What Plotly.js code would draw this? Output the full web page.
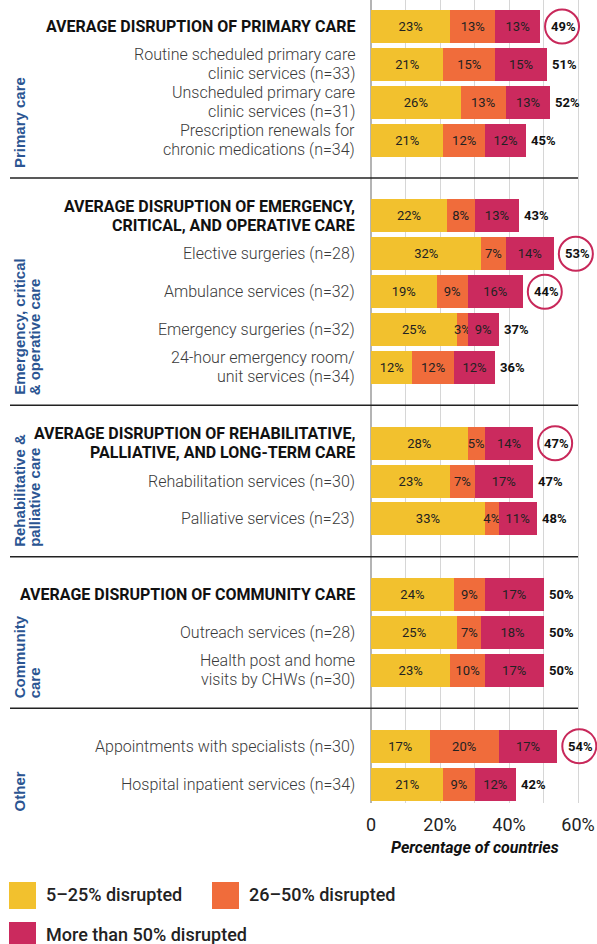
<!DOCTYPE html>
<html><head><meta charset="utf-8">
<script src="https://cdn.plot.ly/plotly-3.0.1.min.js"></script>
<style>html,body{margin:0;padding:0;background:#fff}</style>
</head><body><div id="chart" style="width:597px;height:944px"></div>
<script>
// ---------------- data ----------------
const groupNames = ["Primary care", "Emergency, critical<br>& operative care", "Rehabilitative &<br>palliative care", "Community<br>care", "Other"];
const groupSizes = [4, 5, 3, 3, 2];
const services = [
  "AVERAGE DISRUPTION OF PRIMARY CARE",
  "Routine scheduled primary care<br>clinic services (n=33)",
  "Unscheduled primary care<br>clinic services (n=31)",
  "Prescription renewals for<br>chronic medications (n=34)",
  "AVERAGE DISRUPTION OF EMERGENCY,<br>CRITICAL, AND OPERATIVE CARE",
  "Elective surgeries (n=28)",
  "Ambulance services (n=32)",
  "Emergency surgeries (n=32)",
  "24-hour emergency room/<br>unit services (n=34)",
  "AVERAGE DISRUPTION OF REHABILITATIVE,<br>PALLIATIVE, AND LONG-TERM CARE",
  "Rehabilitation services (n=30)",
  "Palliative services (n=23)",
  "AVERAGE DISRUPTION OF COMMUNITY CARE",
  "Outreach services (n=28)",
  "Health post and home<br>visits by CHWs (n=30)",
  "Appointments with specialists (n=30)",
  "Hospital inpatient services (n=34)"
];
const isAverage = [true,false,false,false, true,false,false,false,false, true,false,false, true,false,false, false,false];
const low  = [23, 21, 26, 21, 22, 32, 19, 25, 12, 28, 23, 33, 24, 25, 23, 17, 21];
const mid  = [13, 15, 13, 12,  8,  7,  9,  3, 12,  5,  7,  4,  9,  7, 10, 20,  9];
const high = [13, 15, 13, 12, 13, 14, 16,  9, 12, 14, 17, 11, 17, 18, 17, 17, 12];
const totals = [49, 51, 52, 45, 43, 53, 44, 37, 36, 47, 47, 48, 50, 50, 50, 54, 42];
const circled = [true,false,false,false, false,true,true,false,false, true,false,false, false,false,false, true,false];
const xTickVals = [0, 20, 40, 60];
const xTickText = ["0", "20%", "40%", "60%"];
const xTitle = "Percentage of countries";
const legendNames = ["5–25% disrupted", "26–50% disrupted", "More than 50% disrupted"];
const colors = ["#F2C12E", "#F06C3B", "#CB2A5E"];

// ---------------- layout helpers ----------------
const W = 597, H = 944, ML = 371, MR = 0, MT = 0, MB = 141;
const plotW = W - ML - MR, plotH = H - MT - MB;
const px2x = p => (p - ML) / plotW;
const py2y = p => (H - MB - p) / plotH;

const cats = [], rowSlot = [], sepSlots = [];
const rowKeys = services.map((s, i) => 'row' + i);
let r = 0;
groupSizes.forEach((n, g) => {
  if (g > 0) { sepSlots.push(cats.length); cats.push('sep' + g); }
  for (let i = 0; i < n; i++) { rowSlot.push(cats.length); cats.push(rowKeys[r]); r++; }
});
const yRange = [cats.length - 0.5, -0.7];
const slotPx = plotH / (yRange[0] - yRange[1]);

// ---------------- traces ----------------
const series = [low, mid, high];
const traces = series.map((vals, k) => ({
  type: 'bar', orientation: 'h', y: rowKeys, x: vals, name: legendNames[k],
  marker: { color: colors[k], line: { width: 0 } },
  text: vals.map(v => v + '%'), textposition: 'inside', insidetextanchor: 'middle',
  textangle: 0, constraintext: 'none',
  textfont: { family: 'Roboto, sans-serif', size: 13, color: '#222' },
  insidetextfont: { family: 'Roboto, sans-serif', size: 13, color: '#222' },
  hoverinfo: 'skip', showlegend: false
}));

// ---------------- shapes & annotations ----------------
const shapes = [], annotations = [];

// category labels (one annotation per line)
const lineGap = 19;
services.forEach((lbl, i) => {
  const lines = lbl.split('<br>');
  lines.forEach((line, li) => {
    annotations.push({
      xref: 'paper', yref: 'y', x: px2x(357), y: rowKeys[i], xanchor: 'right', yanchor: 'middle',
      yshift: ((lines.length - 1) / 2 - li) * lineGap,
      text: isAverage[i] ? '<b>' + line + '</b>' : line, showarrow: false,
      font: isAverage[i]
        ? { family: 'Roboto, sans-serif', size: 16, color: '#111' }
        : { family: 'Roboto, sans-serif', size: 16, color: '#3a3a3a', weight: 300 }
    });
  });
});

// separators
sepSlots.forEach(s => shapes.push({
  type: 'line', xref: 'paper', yref: 'y', x0: px2x(10), x1: px2x(578), y0: s, y1: s,
  line: { color: '#222', width: 1.5 }
}));

// totals + circles
totals.forEach((t, i) => {
  annotations.push({
    x: t, y: rowKeys[i], xref: 'x', yref: 'y', text: '<b>' + t + '%</b>', showarrow: false,
    xanchor: 'left', xshift: circled[i] ? 9 : 3,
    font: { family: 'Roboto, sans-serif', size: 13, color: '#111' }
  });
  if (circled[i]) shapes.push({
    type: 'circle', xref: 'x', yref: 'y', xsizemode: 'pixel', ysizemode: 'pixel',
    xanchor: t, yanchor: rowSlot[i], x0: 5, x1: 39, y0: -17, y1: 17,
    line: { color: '#C8285A', width: 2 }
  });
});

// group labels (one annotation per line for tight line spacing)
groupNames.forEach((gname, g) => {
  const bottomSlot = g < sepSlots.length ? sepSlots[g] : cats.length;
  const yv = Math.min(bottomSlot, yRange[0]);
  gname.split('<br>').forEach((line, li) => {
    annotations.push({
      xref: 'paper', yref: 'y', x: px2x(9 + 15 * li), y: yv, xanchor: 'left', yanchor: 'bottom',
      yshift: 8 - (bottomSlot - yv) * slotPx,
      text: '<b>' + line + '</b>', textangle: -90, showarrow: false,
      font: { family: 'Liberation Sans, Arial, sans-serif', size: 15, color: '#2B5592' }
    });
  });
});

// x axis title
annotations.push({
  xref: 'x', yref: 'paper', x: (xTickVals[0] + xTickVals[xTickVals.length - 1]) / 2, y: py2y(847),
  xanchor: 'center', yanchor: 'middle', showarrow: false,
  text: '<b><i>' + xTitle + '</i></b>',
  font: { family: 'Roboto, sans-serif', size: 16, color: '#111' }
});

// custom legend
const legendPos = [[9, 882], [212, 882], [9, 922]];
legendNames.forEach((nm, k) => {
  const [lx, ly] = legendPos[k];
  shapes.push({
    type: 'rect', xref: 'paper', yref: 'paper', x0: px2x(lx), x1: px2x(lx + 27),
    y0: py2y(ly + 27), y1: py2y(ly), fillcolor: colors[k], line: { width: 0 }
  });
  annotations.push({
    xref: 'paper', yref: 'paper', x: px2x(lx + 35), y: py2y(ly + 12), xanchor: 'left', yanchor: 'middle',
    text: nm, showarrow: false, font: { family: 'Roboto, sans-serif', size: 18, color: '#222', weight: 500 }
  });
});

const layout = {
  width: W, height: H, margin: { l: ML, r: MR, t: MT, b: MB, pad: 0 },
  paper_bgcolor: '#fff', plot_bgcolor: '#fff',
  barmode: 'stack', bargap: 0.13, showlegend: false,
  font: { family: 'Roboto, sans-serif', color: '#333' },
  xaxis: {
    range: [0, plotW / (207 / 60)], autorange: false, tickmode: 'array', tickvals: xTickVals, ticktext: xTickText,
    showgrid: true, gridcolor: '#d6d6d6', gridwidth: 1,
    zeroline: true, zerolinecolor: '#b4b4b4', zerolinewidth: 2,
    ticks: '', showline: false, ticklabelstandoff: 9,
    tickfont: { family: 'Roboto, sans-serif', size: 18, color: '#222' },
    minor: { dtick: 10, tick0: 0, showgrid: true, gridcolor: '#d6d6d6', gridwidth: 1, ticks: '' },
    fixedrange: true
  },
  yaxis: {
    type: 'category', categoryorder: 'array', categoryarray: cats,
    range: yRange, autorange: false, showgrid: false, zeroline: false, showline: false,
    ticks: '', showticklabels: false,
    fixedrange: true
  },
  shapes: shapes, annotations: annotations
};

Plotly.newPlot('chart', traces, layout, { displayModeBar: false, staticPlot: true });
</script>
</body></html>
